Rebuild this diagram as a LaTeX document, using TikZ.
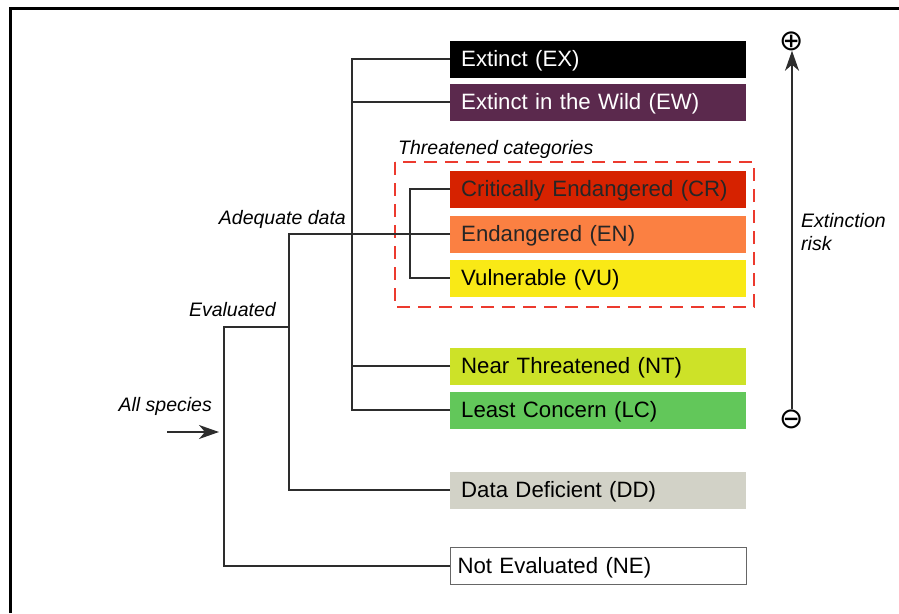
\documentclass[tikz,border=0pt]{standalone}
\usepackage{fontspec}
\setmainfont{Liberation Sans}
\newfontfamily\symfont{DejaVu Sans}
\usetikzlibrary{arrows.meta}
\definecolor{cEX}{RGB}{0,0,0}
\definecolor{cEW}{RGB}{91,41,77}
\definecolor{cCR}{RGB}{214,34,0}
\definecolor{cEN}{RGB}{251,128,66}
\definecolor{cVU}{RGB}{249,233,22}
\definecolor{cNT}{RGB}{205,226,40}
\definecolor{cLC}{RGB}{98,199,90}
\definecolor{cDD}{RGB}{210,210,199}
\definecolor{cline}{RGB}{45,45,45}
\definecolor{cdash}{RGB}{236,58,46}
\tikzset{
  cat/.style={anchor=west,minimum height=37pt,text width=274pt,inner xsep=11pt,
    align=left,text depth=2pt,font=\fontsize{22.2}{25}\selectfont},
  lab/.style={font=\fontsize{19.5}{23}\selectfont\itshape,inner sep=0pt},
  tree/.style={draw=cline,line width=1.6pt},
  tip/.style={-{Stealth[length=20pt,width=14pt,inset=6pt]}}
}
\begin{document}
\begin{tikzpicture}[x=1pt,y=-1pt]
  \useasboundingbox (0,0) rectangle (899,613);
  \draw[line width=3pt] (10,613) -- (10,8) -- (899,8);

  \node[cat,fill=cEX,text=white] (ex) at (450,59) {Extinct (EX)};
  \node[cat,fill=cEW,text=white] (ew) at (450,102) {Extinct in the Wild (EW)};
  \node[cat,fill=cCR,text=black!85] (cr) at (450,189) {Critically Endangered (CR)};
  \node[cat,fill=cEN,text=black!85] (en) at (450,234) {Endangered (EN)};
  \node[cat,fill=cVU] (vu) at (450,278) {Vulnerable (VU)};
  \node[cat,fill=cNT] (nt) at (450,366) {Near Threatened (NT)};
  \node[cat,fill=cLC] (lc) at (450,410) {Least Concern (LC)};
  \node[cat,fill=cDD] (dd) at (450,490) {Data Deficient (DD)};
  \node[cat,draw=black!60,line width=1pt,inner xsep=7pt,text width=282pt] (ne) at (450,566) {Not Evaluated (NE)};

  \draw[cdash,line width=1.6pt,dash pattern=on 13pt off 8pt] (395,162) rectangle (754,307);
  \node[lab,anchor=west] (threat) at (398,149) {Threatened categories};
  \node[lab,anchor=east] (adeq) at (346,219) {Adequate data};
  \node[lab,anchor=east] (eval) at (276,310) {Evaluated};
  \node[lab,anchor=east] (all) at (212,406) {All species};

  \coordinate (lt) at (352,0);
  \coordinate (tt) at (410,0);
  \coordinate (at) at (289,0);
  \coordinate (et) at (224,0);
  \coordinate (ev) at (289,327);
  \coordinate (in1) at (167,432);
  \coordinate (in2) at (219,432);

  \draw[tree] (ex.west) -| (lt |- lc.west) -- (lc.west);
  \draw[tree] (ew.west) -- (ew.west -| lt);
  \draw[tree] (nt.west) -- (nt.west -| lt);
  \draw[tree] (cr.west) -| (tt |- vu.west) -- (vu.west);
  \draw[tree] (en.west) -| (at |- dd.west) -- (dd.west);
  \draw[tree] (ev) -| (et |- ne.west) -- (ne.west);
  \draw[tree,tip] (in1) -- (in2);

  \node[font=\symfont\fontsize{29}{30}\selectfont,inner sep=0pt] (plus) at (792,41) {⊕};
  \node[font=\symfont\fontsize{29}{30}\selectfont,inner sep=0pt] (minus) at (792,419) {⊖};
  \draw[tree,tip] (minus) -- (plus);
  \node[lab,anchor=north west,align=left] (risk) at (801,213) {Extinction\\risk};
\end{tikzpicture}
\end{document}
